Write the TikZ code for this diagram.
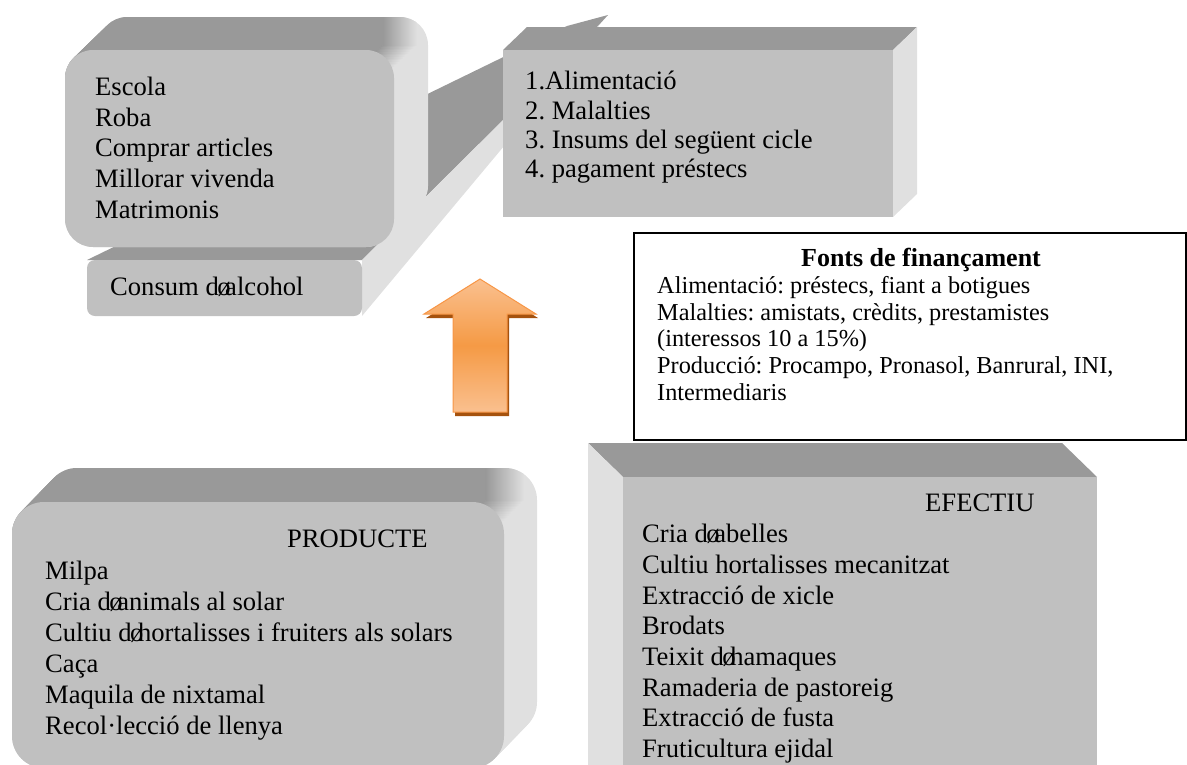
\documentclass[tikz,border=0pt]{standalone}
\usepackage{fontspec}
\setmainfont{Liberation Serif}
\frenchspacing

\definecolor{slabfront}{HTML}{C0C0C0}
\definecolor{slabtop}{HTML}{999999}
\definecolor{slabside}{HTML}{E0E0E0}
\definecolor{arrowlight}{HTML}{FAC08F}
\definecolor{arrowmid}{HTML}{F59A45}
\definecolor{arrowedge}{HTML}{F79646}
\definecolor{arrowshadow}{HTML}{A5520E}

% the broken apostrophe of the original
\newcommand{\ap}{\kern-0.06em ø\kern-0.2em}

% rounded slab: front corners (x1,y1) (x2,y2), radius, depth dx dy
\newcommand{\roundslab}[7]{%
  \foreach \t in {0,0.05,...,1.01}{%
    \fill[slabside,rounded corners=#5pt,shift={(\t*#6,\t*(#7))}] (#1,#2) rectangle (#3,#4);
  }
  \foreach \t in {0,0.05,...,1.01}{%
    \begin{scope}[shift={(\t*#6,\t*(#7))}]
      \clip[rounded corners=#5pt] (#1,#2) rectangle (#3,#4);
      \fill[slabtop] (#1,#2) rectangle ({#3-1.6*#5},{#2+#5});
      \shade[left color=slabtop,right color=slabside] ({#3-1.6*#5},#2) rectangle ({#3-0.4*#5},{#2+#5});
    \end{scope}
  }
  \fill[slabfront,rounded corners=#5pt] (#1,#2) rectangle (#3,#4);
}

\tikzset{
  bigtext/.style={inner sep=0pt, align=left, anchor=north west, font=\fontsize{26.6}{30.6}\selectfont},
  smalltext/.style={inner sep=0pt, align=left, anchor=north west, font=\fontsize{24.3}{26.8}\selectfont},
}

\begin{document}
\begin{tikzpicture}[x=1pt,y=-1pt]
\useasboundingbox (0,0) rectangle (1187,764);
\clip (0,0) rectangle (1187,764);

% long bar behind, ending at the right box
\fill[slabtop] (87,260) -- (567,26) -- (608,15) -- (598,26) -- (362,260) -- cycle;
\fill[slabside] (362,260) -- (598,26) -- (601,30) -- (362,316) -- cycle;
\fill[slabfront,rounded corners=8pt] (87,260) rectangle (362,316);
\node[bigtext, anchor=west] (consum) at (110,287) {Consum d\ap alcohol};

% top left box
\roundslab{65}{50}{394}{247}{28}{34}{-33}
\node[bigtext] (uses) at (95,77) {Escola\\Roba\\Comprar articles\\Millorar vivenda\\Matrimonis};

% top right box
\fill[slabtop] (503,50) -- (527,27) -- (917,27) -- (893,50) -- cycle;
\fill[slabside] (893,50) -- (917,27) -- (917,194) -- (893,217) -- cycle;
\fill[slabfront] (503,50) rectangle (893,217);
\node[bigtext, font=\fontsize{26.6}{29.4}\selectfont] (needs) at (525,71)
  {1.Alimentació\\2. Malalties\\3. Insums del següent cicle\\4. pagament préstecs};

% up arrow
\fill[arrowshadow, shift={(2,4)}] (480,279) -- (536,314) -- (507,314) -- (507,412)
  -- (453,412) -- (453,314) -- (424,314) -- cycle;
\shadedraw[top color=arrowlight, bottom color=arrowlight, middle color=arrowmid,
  draw=arrowedge, line width=1pt] (480,279) -- (536,314) -- (507,314) -- (507,412)
  -- (453,412) -- (453,314) -- (424,314) -- cycle;

% financing box
\draw[line width=1.5pt, fill=white] (634,233) rectangle (1186,440);
\node[inner sep=0pt, font=\fontsize{26}{28}\selectfont\bfseries] (fonts-title) at (921,260) {Fonts de finançament};
\node[smalltext] (fonts-list) at (657,276)
  {Alimentació: préstecs, fiant a botigues\\Malalties: amistats, crèdits, prestamistes\\(interessos 10 a 15\%)\\Producció: Procampo, Pronasol, Banrural, INI,\\Intermediaris};

% bottom right box
\fill[slabtop] (588,443) -- (1062,443) -- (1097,477) -- (623,477) -- cycle;
\fill[slabside] (588,443) -- (623,477) -- (623,800) -- (588,766) -- cycle;
\fill[slabfront] (623,477) rectangle (1097,800);
\node[bigtext, anchor=west] (efectiu-title) at (925,503) {EFECTIU};
\node[bigtext, font=\fontsize{26.6}{30.7}\selectfont] (efectiu-list) at (642,524)
  {Cria d\ap abelles\\Cultiu hortalisses mecanitzat\\Extracció de xicle\\Brodats\\Teixit d\ap hamaques\\Ramaderia de pastoreig\\Extracció de fusta\\Fruticultura ejidal};

% bottom left box
\roundslab{12}{502}{504}{768}{32}{33}{-34}
\node[bigtext, anchor=west] (producte-title) at (287,539) {PRODUCTE};
\node[bigtext, font=\fontsize{26.6}{31}\selectfont] (producte-list) at (45,561)
  {Milpa\\Cria d\ap animals al solar\\Cultiu d\ap hortalisses i fruiters als solars\\Caça\\Maquila de nixtamal\\Recol·lecció de llenya};
\end{tikzpicture}
\end{document}
